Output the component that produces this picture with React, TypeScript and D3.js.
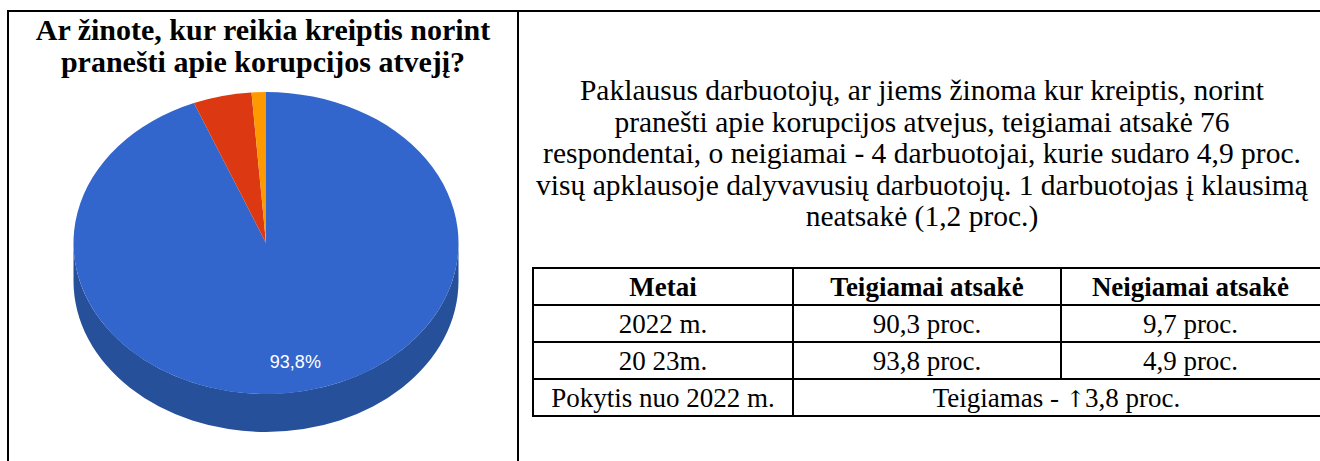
import React from "react";
import * as d3 from "d3";

const sliceLabels = ["Taip", "Ne", "Neatsakė"];
const sliceValues = [93.8, 4.9, 1.2];
const sliceColors = ["#3366cc", "#dc3912", "#ff9900"];
const sideColors = ["#27509b", "#a52b0e", "#bf7300"];

const titleLines = ["Ar žinote, kur reikia kreiptis norint", "pranešti apie korupcijos atvejį?"];
const paragraphLines = [
  "Paklausus darbuotojų, ar jiems žinoma kur kreiptis, norint",
  "pranešti apie korupcijos atvejus, teigiamai atsakė 76",
  "respondentai, o neigiamai - 4 darbuotojai, kurie sudaro 4,9 proc.",
  "visų apklausoje dalyvavusių darbuotojų. 1 darbuotojas į klausimą",
  "neatsakė (1,2 proc.)",
];
const tableHeader = ["Metai", "Teigiamai atsakė", "Neigiamai atsakė"];
const tableRows = [
  ["2022 m.", "90,3 proc.", "9,7 proc."],
  ["20 23m.", "93,8 proc.", "4,9 proc."],
];
const changeLabel = "Pokytis nuo 2022 m.";
const changePrefix = "Teigiamas - ";
const changeArrow = "↑";
const changeAmount = "3,8 proc.";

const W = 1320;
const H = 461;
const SERIF = `"Liberation Serif"`;
const SANS = `"Liberation Sans"`;

const serifStyle = (size: number, bold = false) => ({
  fontFamily: SERIF,
  fontSize: size,
  fontWeight: bold ? 700 : 400,
});

export default function App() {
  const cx = 266, cy = 243, rx = 192.5, ry = 151, depth = 38;
  const pie = d3.pie<number>().sort(null).value((d) => d);
  const arcs = pie(sliceValues);
  const p = (t: number, dy = 0) => [cx + rx * Math.sin(t), cy - ry * Math.cos(t) + dy];
  const fmt = (pt: number[]) => `${pt[0].toFixed(2)} ${pt[1].toFixed(2)}`;

  const sides = arcs.map((a, i) => {
    const s0 = Math.max(a.startAngle, Math.PI / 2);
    const s1 = Math.min(a.endAngle, (3 * Math.PI) / 2);
    if (s1 <= s0) return null;
    const d = `M ${fmt(p(s0))} A ${rx} ${ry} 0 0 1 ${fmt(p(s1))} L ${fmt(p(s1, depth))} A ${rx} ${ry} 0 0 0 ${fmt(p(s0, depth))} Z`;
    return <path key={"s" + i} d={d} fill={sideColors[i]} />;
  });

  const tops = arcs.map((a, i) => {
    const large = a.endAngle - a.startAngle > Math.PI ? 1 : 0;
    const d = `M ${cx} ${cy} L ${fmt(p(a.startAngle))} A ${rx} ${ry} 0 ${large} 1 ${fmt(p(a.endAngle))} Z`;
    return <path key={"t" + i} d={d} fill={sliceColors[i]} />;
  });

  const labels = arcs.map((a, i) => {
    if (a.value < 10) return null;
    const mid = (a.startAngle + a.endAngle) / 2;
    const f = 0.8;
    const x = cx + rx * f * Math.sin(mid);
    const y = cy - ry * f * Math.cos(mid);
    return (
      <text key={"l" + i} x={x} y={y} dy="0.35em" textAnchor="middle" fill="#ffffff"
        style={{ fontFamily: SANS, fontSize: 18 }}>
        {a.value.toFixed(1).replace(".", ",")}%
      </text>
    );
  });

  const colX = [533, 793, 1061, 1320];
  const rowY = [268, 305, 342, 379, 416];
  const tableFont = 27;
  const titleFont = 30;
  const paraFont = 29.5;

  return (
    <svg width={W} height={H} style={{ position: "absolute", left: 0, top: 0, background: "#fff" }}>
      <rect width={W} height={H} fill="#fff" />
      <g stroke="#000" strokeWidth={2}>
        <line x1={7} x2={W} y1={11} y2={11} />
        <line x1={8} x2={8} y1={10} y2={H} />
        <line x1={518} x2={518} y1={10} y2={H} />
      </g>
      {titleLines.map((t, i) => (
        <text key={"ti" + i} x={263} y={40 + i * 32} textAnchor="middle" fill="#000" style={serifStyle(titleFont, true)}>{t}</text>
      ))}
      <g>{sides}</g>
      <g>{tops}</g>
      <g>{labels}</g>
      {paragraphLines.map((t, i) => (
        <text key={"pa" + i} x={922} y={100 + i * 31.5} textAnchor="middle" fill="#000" style={serifStyle(paraFont)}>{t}</text>
      ))}
      <g stroke="#000" strokeWidth={2}>
        {rowY.map((y, i) => (
          <line key={"h" + i} x1={colX[0] - 1} x2={W} y1={y} y2={y} />
        ))}
        <line x1={colX[0]} x2={colX[0]} y1={rowY[0]} y2={rowY[4]} />
        <line x1={colX[1]} x2={colX[1]} y1={rowY[0]} y2={rowY[4]} />
        <line x1={colX[2]} x2={colX[2]} y1={rowY[0]} y2={rowY[3]} />
      </g>
      {tableHeader.map((t, j) => (
        <text key={"hd" + j} x={(colX[j] + colX[j + 1]) / 2} y={(rowY[0] + rowY[1]) / 2 + 9} textAnchor="middle" fill="#000" style={serifStyle(tableFont, true)}>{t}</text>
      ))}
      {tableRows.map((r, i) =>
        r.map((t, j) => (
          <text key={"r" + i + j} x={(colX[j] + colX[j + 1]) / 2} y={(rowY[i + 1] + rowY[i + 2]) / 2 + 9} textAnchor="middle" fill="#000" style={serifStyle(tableFont)}>{t}</text>
        ))
      )}
      <text x={(colX[0] + colX[1]) / 2} y={(rowY[3] + rowY[4]) / 2 + 9} textAnchor="middle" fill="#000" style={serifStyle(tableFont)}>{changeLabel}</text>
      <text x={(colX[1] + colX[3]) / 2} y={(rowY[3] + rowY[4]) / 2 + 9} textAnchor="middle" fill="#000" style={serifStyle(tableFont)}>
        {changePrefix}
        <tspan style={{ fontFamily: `"DejaVu Serif"`, fontSize: tableFont * 0.85 }}>{changeArrow}</tspan>
        {changeAmount}
      </text>
    </svg>
  );
}
